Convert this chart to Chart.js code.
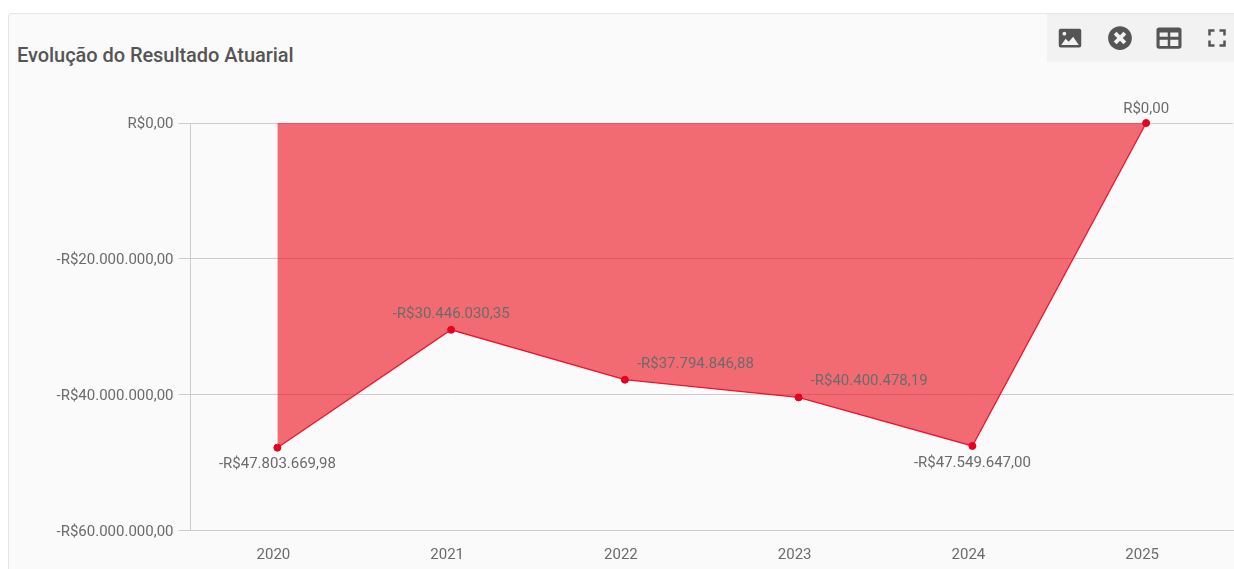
<!DOCTYPE html>
<html lang="pt-BR">
<head>
<meta charset="utf-8">
<title>Evolução do Resultado Atuarial</title>
<script src="https://cdn.jsdelivr.net/npm/chart.js@4"></script>
<style>
  html, body { margin: 0; padding: 0; background: #fff; overflow: hidden; }
  #card {
    position: absolute; left: 8px; top: 13px; width: 1240px; height: 570px;
    background: #fafafa; border: 1px solid #e6e6e6; border-radius: 3px; box-sizing: border-box;
  }
  #title {
    position: absolute; left: 17px; top: 43px; margin: 0;
    font: 500 20px Roboto, sans-serif; color: #555; letter-spacing: -0.05px;
  }
  #toolbar {
    position: absolute; left: 1047px; top: 14px; width: 187px; height: 48px; background: #f2f2f2;
  }
  #toolbar svg { position: absolute; top: 9px; width: 30px; height: 30px; fill: #555; }
  #wrap { position: absolute; left: 0; top: 0; width: 1234px; height: 569px; }
</style>
</head>
<body>
<div id="card"></div>
<h1 id="title">Evolução do Resultado Atuarial</h1>
<div id="wrap"><canvas id="resultChart" width="1234" height="569"></canvas></div>
<div id="toolbar">
  <svg style="left:8px" viewBox="0 0 24 24"><path d="M21 18V6c0-.8-.6-1.500-1.500-1.500h-15C3.600 4.500 3 5.200 3 6v12c0 .8.6 1.500 1.500 1.500h15c.9 0 1.500-.7 1.500-1.500zM8.500 12.500l2.500 2.500 3.500-4 4.500 6.500H5l3.500-5z M7.500 7a1.500 1.500 0 1 1 0 3a1.500 1.500 0 0 1 0-3z" fill-rule="evenodd"/></svg>
  <svg style="left:58px" viewBox="0 0 24 24"><path d="M12 2.500C6.700 2.500 2.500 6.700 2.500 12s4.200 9.500 9.500 9.500 9.500-4.200 9.500-9.500S17.300 2.500 12 2.500zm5 12.300L14.800 17 12 14.200 9.200 17 7 14.800 9.800 12 7 9.200 9.200 7 12 9.800 14.800 7 17 9.200 14.200 12 17 14.800z"/></svg>
  <svg style="left:107px" viewBox="0 0 24 24"><path d="M20 3.500H4c-1.100 0-2 .8-2 1.800v13.400c0 1 .9 1.800 2 1.800h16c1.100 0 2-.8 2-1.800V5.300c0-1-.9-1.800-2-1.800zM11 18.300H4.500v-5H11v5zm0-7.300H4.500V7.500H11V11zm8.500 7.300H13v-5h6.500v5zm0-7.300H13V7.500h6.500V11z"/></svg>
  <svg style="left:155px" viewBox="0 0 24 24"><path d="M7 14H5v5h5v-2H7v-3zm-2-4h2V7h3V5H5v5zm12 7h-3v2h5v-5h-2v3zM14 5v2h3v3h2V5h-5z"/></svg>
</div>
<script>
const years = ['2020', '2021', '2022', '2023', '2024', '2025'];
const resultado = [-47803669.98, -30446030.35, -37794846.88, -40400478.19, -47549647.00, 0];
const yTicks = [0, -20000000, -40000000, -60000000];

const moeda = v => {
  const s = Math.abs(v).toLocaleString('pt-BR', { minimumFractionDigits: 2, maximumFractionDigits: 2 });
  return (v < 0 ? '-R$' : 'R$') + s;
};

// label offset per point, relative to the marker
const labelPlace = [
  { dx: 0, dy: 17, align: 'center' },
  { dx: 0, dy: -16, align: 'center' },
  { dx: 12, dy: -15, align: 'left' },
  { dx: 12, dy: -16, align: 'left' },
  { dx: 0, dy: 17, align: 'center' },
  { dx: 0, dy: -14, align: 'center' }
];

const pointLabels = {
  id: 'pointLabels',
  afterDatasetsDraw(chart) {
    const ctx = chart.ctx;
    ctx.save();
    ctx.font = '15px Roboto, sans-serif';
    ctx.fillStyle = '#6b6b6b';
    ctx.textBaseline = 'middle';
    chart.getDatasetMeta(0).data.forEach((pt, i) => {
      const p = labelPlace[i];
      ctx.textAlign = p.align;
      ctx.fillText(moeda(resultado[i]), pt.x + p.dx, pt.y + p.dy);
    });
    ctx.restore();
  }
};

new Chart(document.getElementById('resultChart').getContext('2d'), {
  type: 'line',
  data: {
    labels: years,
    datasets: [{
      label: 'Resultado Atuarial',
      data: resultado,
      fill: 'origin',
      clip: false,
      tension: 0,
      borderColor: '#f0112f',
      backgroundColor: 'rgba(236, 12, 24, 0.6)',
      borderWidth: 1.3,
      pointRadius: 3.5,
      pointBackgroundColor: '#e8001f',
      pointBorderColor: '#e8001f',
      pointBorderWidth: 1
    }]
  },
  options: {
    responsive: false,
    animation: false,
    layout: { autoPadding: false, padding: { top: 123, right: 1, bottom: 0, left: 0 } },
    plugins: { legend: { display: false }, tooltip: { enabled: false } },
    scales: {
      x: {
        offset: true,
        afterFit(scale) { scale.height = 38.5; },
        grid: { display: false },
        border: { display: true, color: '#cccccc' },
        ticks: { color: '#6b6b6b', font: { family: 'Roboto', size: 15 }, padding: 8, labelOffset: -4, maxRotation: 0 }
      },
      y: {
        min: -60000000,
        max: 0,
        afterFit(scale) { scale.width = 190.5; },
        afterBuildTicks(scale) { scale.ticks = yTicks.map(value => ({ value })); },
        grid: { color: '#cccccc', tickLength: 12, lineWidth: 1 },
        border: { display: true, color: '#cccccc' },
        ticks: { color: '#6b6b6b', font: { family: 'Roboto', size: 15 }, padding: 5, labelOffset: 1.5, callback: v => moeda(v) }
      }
    }
  },
  plugins: [pointLabels]
});
</script>
</body>
</html>
